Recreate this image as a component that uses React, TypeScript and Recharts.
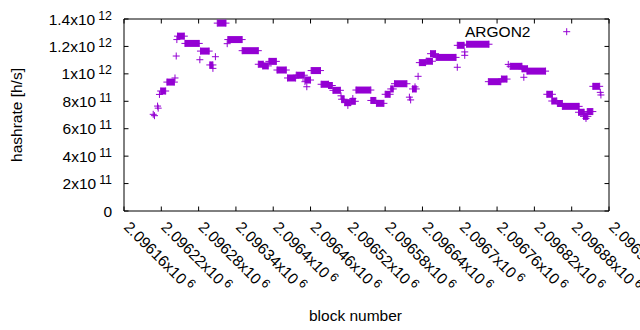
import { ScatterChart, Scatter, XAxis, YAxis, ErrorBar, ReferenceLine, Legend } from 'recharts'

const COLOR = '#9400d3'
const FONT = '"Liberation Sans", Arial, sans-serif'
const FS = 15.5
const SUP = 12.4
const PLOT_TOP = 19
const PLOT_RIGHT = 609

// block numbers on the x axis
const xTicks = [
  2096160, 2096220, 2096280, 2096340, 2096400, 2096460, 2096520,
  2096580, 2096640, 2096700, 2096760, 2096820, 2096880, 2096940,
]
// hashrate in units of 1e11 h/s
const yTicks = [0, 2, 4, 6, 8, 10, 12, 14]

// runs of consecutive blocks at (nearly) the same hashrate
const runStart = [
  2096219, 2096229, 2096246, 2096258, 2096283, 2096298, 2096310, 2096327, 2096350, 2096376,
  2096383, 2096393, 2096406, 2096423, 2096437, 2096452, 2096461, 2096477, 2096489, 2096496,
  2096510, 2096515, 2096525, 2096533, 2096557, 2096566, 2096580, 2096589, 2096595, 2096624,
  2096635, 2096646, 2096653, 2096662, 2096696, 2096711, 2096746, 2096767, 2096781, 2096800,
  2096808, 2096840, 2096848, 2096857, 2096865, 2096891, 2096899, 2096905, 2096914,
]
const runEnd = [
  2096227, 2096241, 2096257, 2096281, 2096297, 2096303, 2096324, 2096350, 2096376, 2096384,
  2096392, 2096405, 2096421, 2096436, 2096450, 2096460, 2096476, 2096489, 2096495, 2096508,
  2096514, 2096524, 2096532, 2096557, 2096565, 2096578, 2096588, 2096593, 2096615, 2096630,
  2096645, 2096656, 2096661, 2096694, 2096707, 2096747, 2096766, 2096776, 2096800, 2096809,
  2096838, 2096849, 2096856, 2096865, 2096892, 2096900, 2096906, 2096914, 2096925,
]
const runRate = [
  8.75, 9.4, 12.75, 12.22, 11.66, 10.65, 13.7, 12.5, 11.69, 10.7,
  10.58, 10.91, 10.28, 9.7, 9.9, 9.55, 10.24, 9.24, 9.15, 8.8,
  8.15, 7.9, 8.0, 8.82, 8.06, 7.85, 8.51, 8.9, 9.28, 8.9,
  10.82, 10.92, 11.47, 11.2, 12.08, 12.16, 9.43, 9.62, 10.55, 10.37,
  10.2, 8.51, 8.02, 7.84, 7.63, 7.2, 6.9, 7.25, 9.09,
]

// single blocks off the runs
const pointBlock = [
  2096207, 2096209, 2096214, 2096215, 2096217, 2096242, 2096244, 2096245, 2096282, 2096303,
  2096307, 2096326, 2096451, 2096454, 2096509, 2096520, 2096528, 2096619, 2096621, 2096628,
  2096633, 2096696, 2096708, 2096708, 2096778, 2096803, 2096903, 2096926, 2096927,
]
const pointRate = [
  7.05, 6.95, 7.65, 7.5, 8.5, 9.7, 11.3, 12.5, 11.03, 10.4,
  11.25, 12.2, 9.43, 9.06, 8.4, 7.7, 8.2, 8.3, 8.1, 9.05,
  9.82, 10.48, 11.6, 11.35, 10.69, 9.75, 6.75, 8.65, 8.46,
]

const runData = runStart.map((s, i) => ({ block: s, rate: runRate[i], len: [0, runEnd[i] - s] }))
const markerData = [
  ...pointBlock.map((b, i) => ({ block: b, rate: pointRate[i] })),
  ...runStart.map((b, i) => ({ block: b, rate: runRate[i] })),
  ...runEnd.map((b, i) => ({ block: b, rate: runRate[i] })),
]

function Plus(props: any) {
  const { cx, cy } = props
  if (cx == null || cy == null) return <g />
  return (
    <path
      d={`M${cx - 3.5},${cy}H${cx + 3.5}M${cx},${cy - 3.5}V${cy + 3.5}`}
      stroke={COLOR}
      strokeWidth={1}
      fill="none"
    />
  )
}

function XTick(props: any) {
  const { x, y, payload } = props
  const mant = String(parseFloat((payload.value / 1e6).toFixed(5)))
  return (
    <g>
      <line x1={x} y1={y} x2={x} y2={y - 4.5} stroke="#000" />
      <line x1={x} y1={PLOT_TOP} x2={x} y2={PLOT_TOP + 4.5} stroke="#000" />
      <text
        transform={`translate(${x - 1},${y + 17}) rotate(45)`}
        fontSize={FS}
        fontFamily={FONT}
        fill="#000"
      >
        {mant}x10
        <tspan dx={3} dy={-5} fontSize={SUP}>6</tspan>
      </text>
    </g>
  )
}

function YTick(props: any) {
  const { x, y, payload } = props
  const v = payload.value
  let label: any = '0'
  if (v > 0) {
    const exp = v >= 10 ? 12 : 11
    const mant = v >= 10 ? String(v / 10) : String(v)
    label = (
      <>
        {mant}x10
        <tspan dx={3} dy={-5} fontSize={SUP}>{exp}</tspan>
      </>
    )
  }
  return (
    <g>
      <line x1={x} y1={y} x2={x + 4.5} y2={y} stroke="#000" />
      <line x1={PLOT_RIGHT} y1={y} x2={PLOT_RIGHT - 4.5} y2={y} stroke="#000" />
      <text x={x - 12} y={y + 5.5} textAnchor="end" fontSize={FS} fontFamily={FONT} fill="#000">
        {label}
      </text>
    </g>
  )
}

function YLabel(props: any) {
  const { viewBox } = props
  const cx = viewBox.x + 12
  const cy = viewBox.y + viewBox.height / 2
  return (
    <text
      x={cx}
      y={cy}
      transform={`rotate(-90, ${cx}, ${cy})`}
      textAnchor="middle"
      dominantBaseline="central"
      fontSize={FS}
      fontFamily={FONT}
      fill="#000"
    >
      hashrate [h/s]
    </text>
  )
}

function XLabel(props: any) {
  const { viewBox } = props
  return (
    <text
      x={viewBox.x + viewBox.width / 2 - 11}
      y={viewBox.y + 110}
      textAnchor="middle"
      fontSize={FS}
      fontFamily={FONT}
      fill="#000"
    >
      block number
    </text>
  )
}

function KeyBox(props: any) {
  const name = props.payload && props.payload.length ? props.payload[0].value : 'ARGON2'
  return (
    <svg width={120} height={24} style={{ display: 'block' }}>
      <text x={5} y={18} fontSize={FS} fontFamily={FONT} fill="#000">{name}</text>
      <path d="M103.2,12.7H110.2M106.7,9.2V16.2" stroke={COLOR} strokeWidth={1} fill="none" />
    </svg>
  )
}

export default function App() {
  return (
    <div style={{ position: 'absolute', left: 0, top: 0, background: '#fff' }}>
      <ScatterChart width={640} height={330} margin={{ top: 19, right: 31, bottom: 0, left: 4 }}>
        <XAxis
          type="number"
          dataKey="block"
          domain={[2096160, 2096940]}
          ticks={xTicks}
          interval={0}
          allowDataOverflow
          height={119}
          tickSize={0}
          tickMargin={0}
          tickLine={false}
          axisLine={{ stroke: '#000' }}
          tick={<XTick />}
          label={<XLabel />}
        />
        <YAxis
          type="number"
          dataKey="rate"
          domain={[0, 14]}
          ticks={yTicks}
          interval={0}
          allowDataOverflow
          width={120}
          tickSize={0}
          tickMargin={0}
          tickLine={false}
          axisLine={{ stroke: '#000' }}
          tick={<YTick />}
          label={<YLabel />}
        />
        <ReferenceLine y={14} stroke="#000" />
        <ReferenceLine x={2096940} stroke="#000" />
        <Scatter
          data={runData}
          fill={COLOR}
          legendType="none"
          shape={() => <g />}
          isAnimationActive={false}
        >
          <ErrorBar
            dataKey="len"
            direction="x"
            width={0}
            strokeWidth={7}
            stroke={COLOR}
            isAnimationActive={false}
          />
        </Scatter>
        <Scatter
          name="ARGON2"
          data={markerData}
          fill={COLOR}
          shape={<Plus />}
          isAnimationActive={false}
        />
        <Legend
          layout="horizontal"
          verticalAlign="middle"
          align="center"
          wrapperStyle={{ top: 19, left: 460, width: 120, height: 24 }}
          content={<KeyBox />}
        />
      </ScatterChart>
    </div>
  )
}
